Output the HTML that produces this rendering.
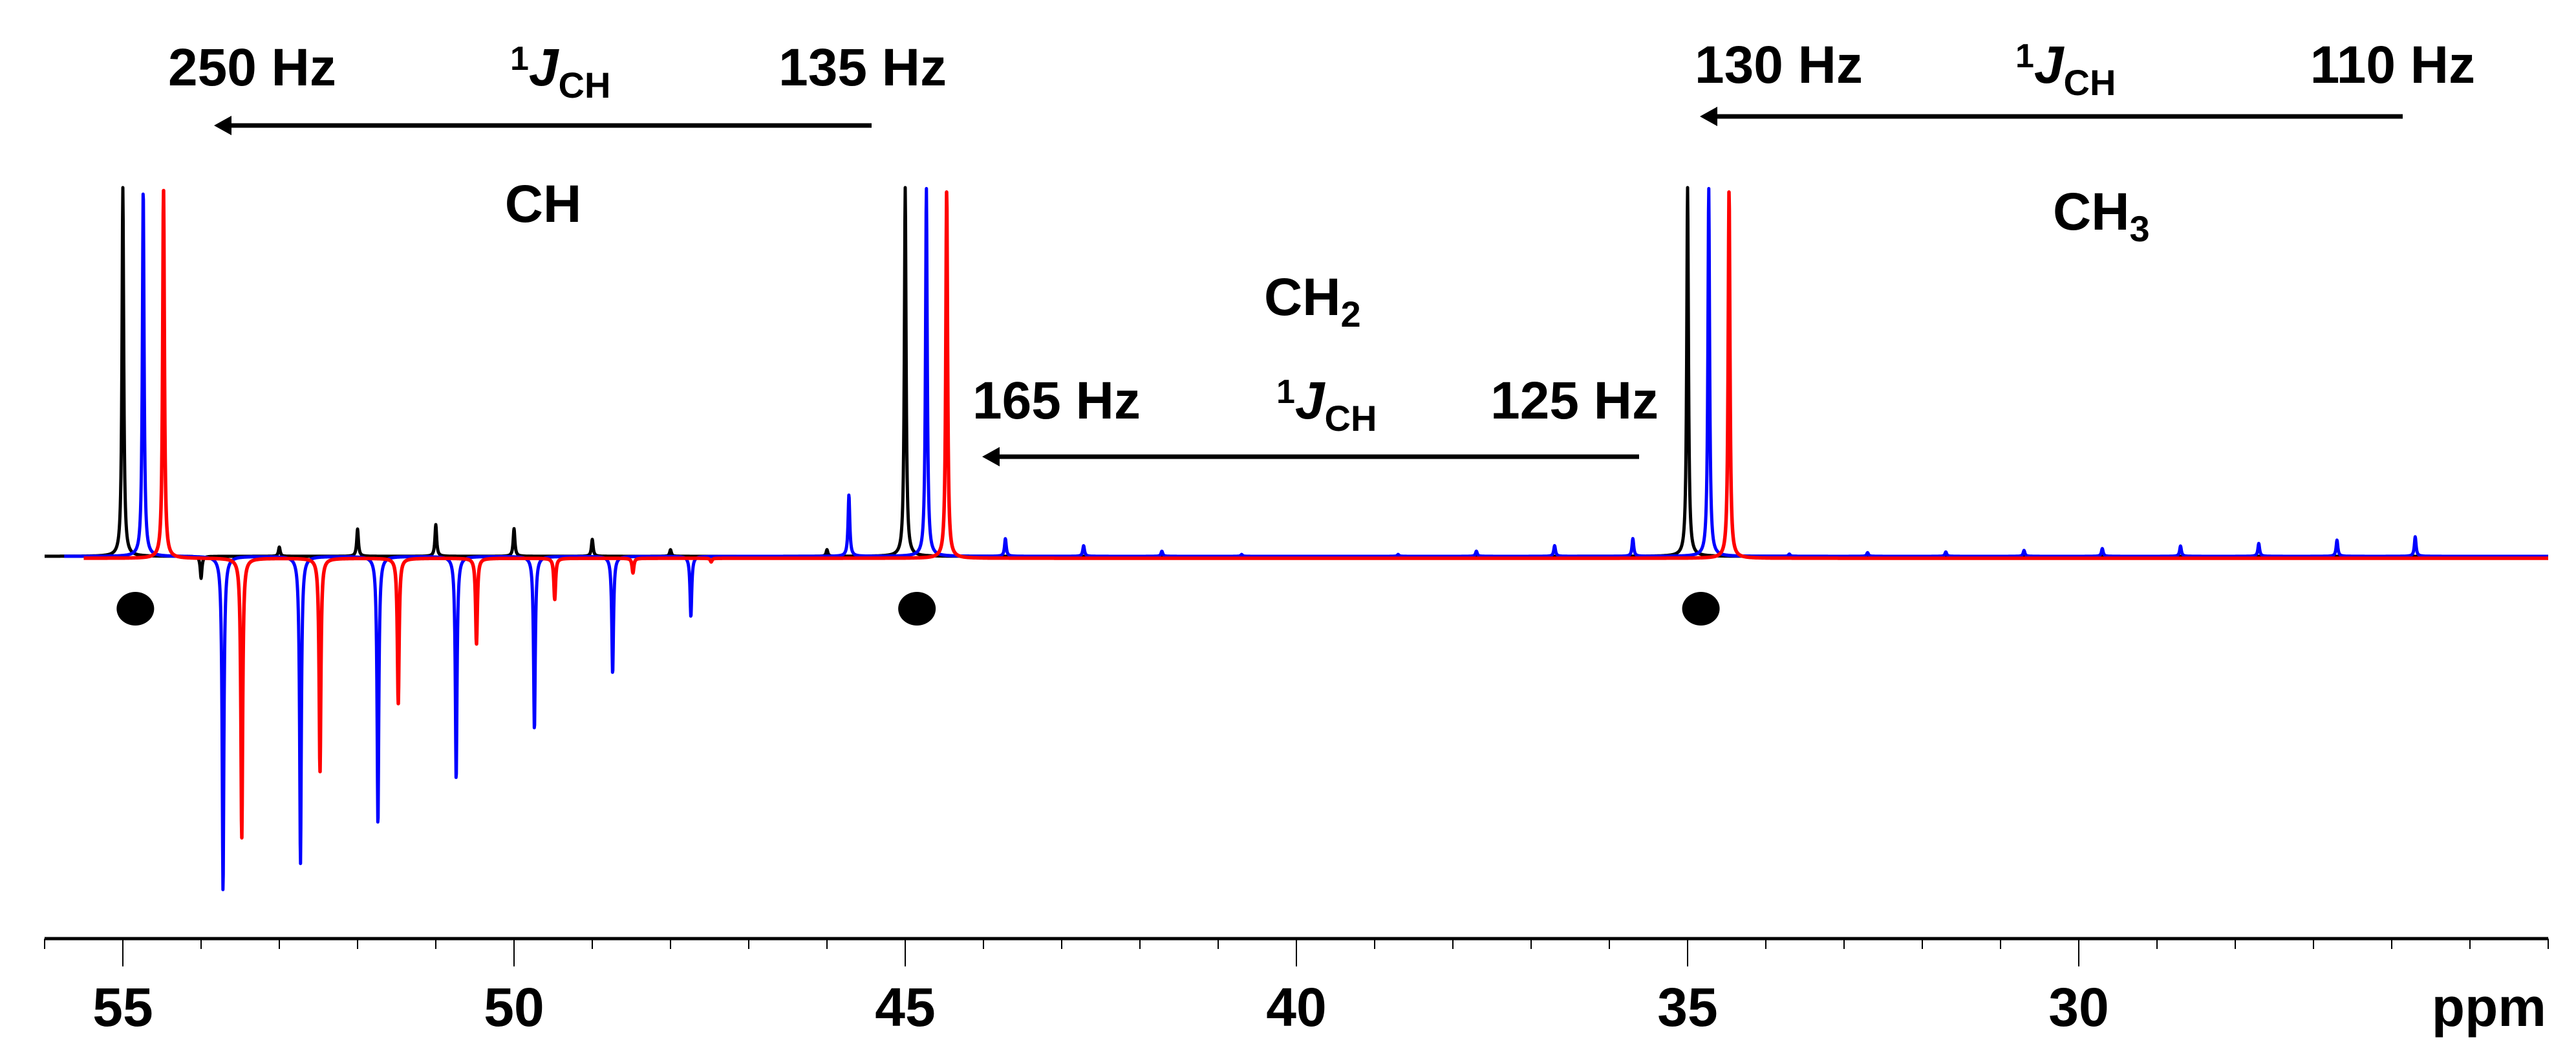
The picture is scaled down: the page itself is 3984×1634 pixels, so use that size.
<!DOCTYPE html>
<html><head><meta charset="utf-8">
<style>
html,body{margin:0;padding:0;background:#fff;}
svg{display:block;}
text{font-family:"Liberation Sans",Arial,sans-serif;font-weight:bold;fill:#000;}
</style></head>
<body>
<svg id="chart" width="3984" height="1634" viewBox="0 0 3984 1634" xmlns="http://www.w3.org/2000/svg">
  <g id="annotations">
    <text x="260" y="132" font-size="82">250 Hz</text>
    <text x="1464" y="132" font-size="82" text-anchor="end">135 Hz</text>
    <text x="789" y="108" font-size="52">1<tspan font-size="82" font-style="italic" dy="24">J</tspan><tspan font-size="56" dy="19">CH</tspan></text>
    <text x="840" y="343" font-size="82" text-anchor="middle">CH</text>

    <text x="2621" y="128" font-size="82">130 Hz</text>
    <text x="3828" y="128" font-size="82" text-anchor="end">110 Hz</text>
    <text x="3117" y="104" font-size="52">1<tspan font-size="82" font-style="italic" dy="24">J</tspan><tspan font-size="56" dy="19">CH</tspan></text>
    <text x="3175" y="355" font-size="82">CH<tspan font-size="56" dy="18">3</tspan></text>

    <text x="1955" y="487" font-size="82">CH<tspan font-size="56" dy="18">2</tspan></text>
    <text x="1504" y="647" font-size="82">165 Hz</text>
    <text x="2565" y="647" font-size="82" text-anchor="end">125 Hz</text>
    <text x="1974" y="623" font-size="52">1<tspan font-size="82" font-style="italic" dy="24">J</tspan><tspan font-size="56" dy="19">CH</tspan></text>

    <g>
      <line x1="1348" y1="194" x2="350" y2="194" stroke="#000" stroke-width="7"/>
      <polygon points="331,194 358,179 358,209" fill="#000"/>
    </g>
    <g>
      <line x1="3716" y1="180" x2="2648" y2="180" stroke="#000" stroke-width="7"/>
      <polygon points="2629,180 2656,165 2656,195" fill="#000"/>
    </g>
    <g>
      <line x1="2535" y1="706" x2="1538" y2="706" stroke="#000" stroke-width="7"/>
      <polygon points="1519,706 1546,691 1546,721" fill="#000"/>
    </g>
  </g>
  <g id="series"></g>
  <g id="dots"></g>
  <g id="axis"></g>
</svg>
<script>
// ---- data ----
const blackPpm = [55.0, 54.0, 53.0, 52.0, 51.0, 50.0, 49.0, 48.0, 46.0, 45.0, 35.0];
const blackInt = [100, -6, 2.5, 7.4, 8.6, 7.5, 4.6, 1.8, 1.8, 100, 100];
const bluePpm = [54.74, 53.72, 52.73, 51.74, 50.74, 49.74, 48.74, 47.74, 45.72, 44.73, 43.72, 42.72, 41.72, 40.7, 38.7, 37.7, 36.7, 35.7, 34.73, 33.7, 32.7, 31.7, 30.7, 29.7, 28.7, 27.7, 26.7, 25.7];
const blueInt = [100, -91, -83.5, -73.3, -61, -47.3, -32, -16.5, 16.7, 100, 4.8, 2.9, 1.4, 0.5, 0.5, 1.4, 2.9, 4.8, 100, 0.6, 1.0, 1.2, 1.6, 2.1, 2.8, 3.5, 4.4, 5.3];
const redPpm = [54.48, 53.48, 52.48, 51.48, 50.48, 49.48, 48.48, 47.48, 44.47, 34.47];
const redInt = [100, -76, -58, -39.5, -23.3, -11.2, -4, -1, 100, 100];
const dotPpm = [54.84, 44.85, 34.83];
const majorTicks = [55, 50, 45, 40, 35, 30];
const majorLabels = ["55", "50", "45", "40", "35", "30"];
const minorTicks = [56,54,53,52,51,49,48,47,46,44,43,42,41,39,38,37,36,34,33,32,31,29,28,27,26,25,24];

// ---- scales ----
const NS = "http://www.w3.org/2000/svg";
function xS(p){ return 190 + (55 - p) * 121.0; }
function yS(v){ return 860 - v * 5.7; }
const gamma = 0.013;

function spectrum(ppms, ints, start, end, off){
  let d = "";
  const x0 = xS(start), x1 = xS(end);
  for (let x = x0; x <= x1; x += 0.5){
    const p = 55 - (x - 190) / 121.0;
    let v = 0;
    for (let i = 0; i < ppms.length; i++){
      const dp = p - ppms[i];
      v += ints[i] * gamma * gamma / (dp * dp + gamma * gamma);
    }
    d += (d ? "L" : "M") + x.toFixed(1) + "," + (yS(v) + off).toFixed(1);
  }
  return d;
}
const sg = document.getElementById("series");
function addSeries(name, ppms, ints, start, color, off, w){
  const p = document.createElementNS(NS, "path");
  p.setAttribute("d", spectrum(ppms, ints, start, 24, off));
  p.setAttribute("fill", "none");
  p.setAttribute("stroke", color);
  p.setAttribute("stroke-width", w);
  p.setAttribute("stroke-linejoin", "round");
  
  
  sg.appendChild(p);
}
addSeries("black-spectrum", blackPpm, blackInt, 56.0, "#000", 0, 5);
addSeries("blue-spectrum", bluePpm, blueInt, 55.75, "#0000ff", 0, 5);
addSeries("red-spectrum", redPpm, redInt, 55.5, "#ff0000", 3, 5.5);

// dots
const dg = document.getElementById("dots");
dotPpm.forEach(function(p){
  const c = document.createElementNS(NS, "ellipse");
  c.setAttribute("cx", xS(p)); c.setAttribute("cy", 941);
  c.setAttribute("rx", 29); c.setAttribute("ry", 26);
  c.setAttribute("fill", "#000");
  
  
  dg.appendChild(c);
});

// axis
const ag = document.getElementById("axis");
const al = document.createElementNS(NS, "line");
al.setAttribute("x1", xS(56)); al.setAttribute("x2", xS(24));
al.setAttribute("y1", 1451); al.setAttribute("y2", 1451);
al.setAttribute("stroke", "#000"); al.setAttribute("stroke-width", 5);


ag.appendChild(al);
minorTicks.forEach(function(t){
  const l = document.createElementNS(NS, "line");
  l.setAttribute("x1", xS(t)); l.setAttribute("x2", xS(t));
  l.setAttribute("y1", 1451); l.setAttribute("y2", 1467);
  l.setAttribute("stroke", "#000"); l.setAttribute("stroke-width", 2);
  
  
  ag.appendChild(l);
});
majorTicks.forEach(function(t, i){
  const l = document.createElementNS(NS, "line");
  l.setAttribute("x1", xS(t)); l.setAttribute("x2", xS(t));
  l.setAttribute("y1", 1451); l.setAttribute("y2", 1494);
  l.setAttribute("stroke", "#000"); l.setAttribute("stroke-width", 2);
  
  
  ag.appendChild(l);
  const tx = document.createElementNS(NS, "text");
  tx.setAttribute("x", xS(t)); tx.setAttribute("y", 1586);
  tx.setAttribute("font-size", 84);
  tx.setAttribute("text-anchor", "middle");
  tx.textContent = majorLabels[i];
  
  
  ag.appendChild(tx);
});
const unit = document.createElementNS(NS, "text");
unit.setAttribute("x", 3938); unit.setAttribute("y", 1586);
unit.setAttribute("font-size", 84);
unit.setAttribute("text-anchor", "end");
unit.textContent = "ppm";


ag.appendChild(unit);
</script>
</body></html>
